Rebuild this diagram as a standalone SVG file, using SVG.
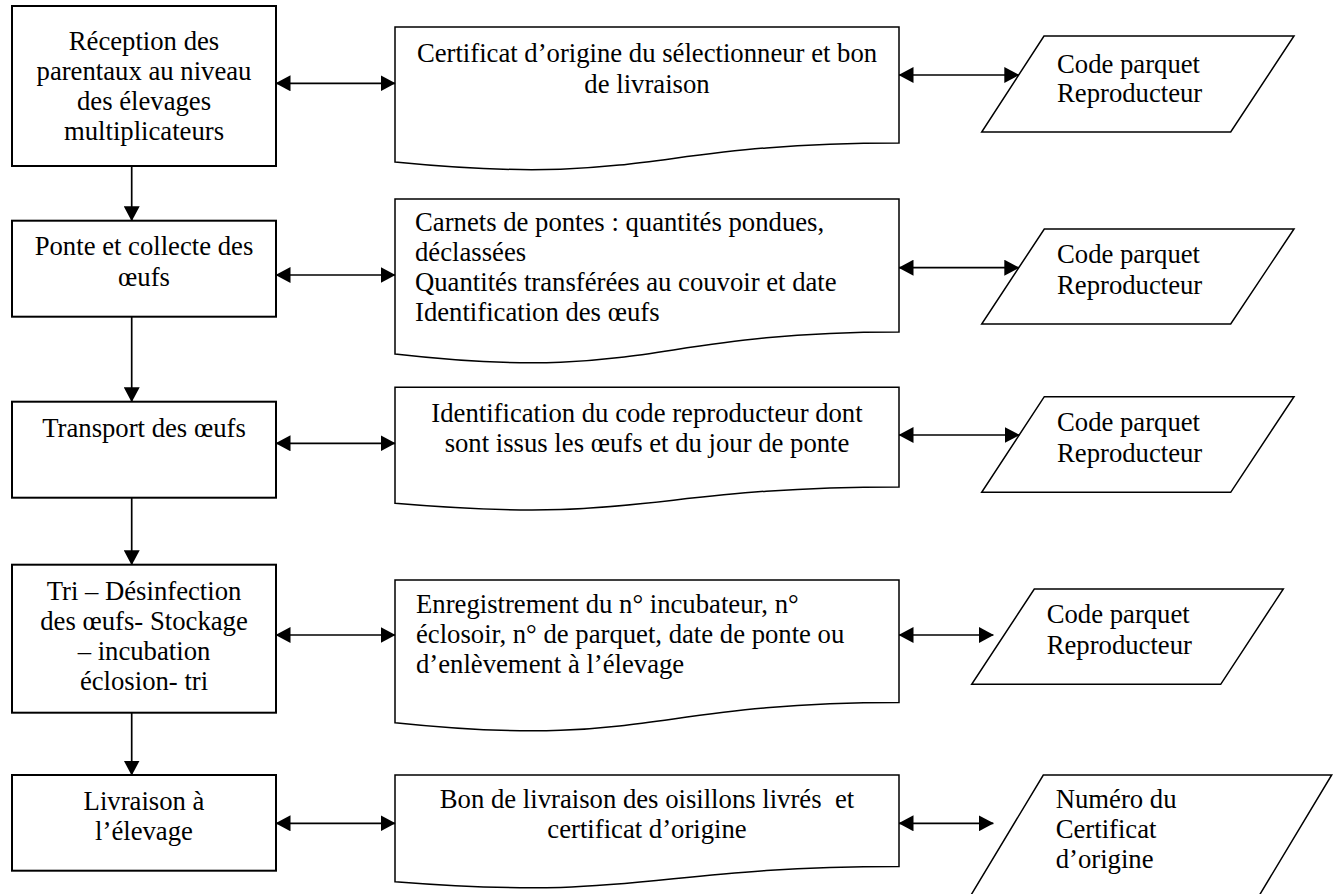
<svg xmlns="http://www.w3.org/2000/svg" width="1341" height="894" viewBox="0 0 1341 894">
<style>
.box{fill:#fff;stroke:#000;stroke-width:2}
.doc{fill:#fff;stroke:#000;stroke-width:1.5}
.par{fill:#fff;stroke:#000;stroke-width:1.5}
.t{font-family:"Liberation Serif","Times New Roman",serif;font-size:26.7px;fill:#000}
.c{text-anchor:middle}
.con line{stroke:#000;stroke-width:1.7}
.bi{marker-start:url(#ah);marker-end:url(#ah)}
.one{marker-end:url(#ah)}
</style>
<defs>
<marker id="ah" viewBox="0 0 15 16" refX="14.5" refY="8" markerWidth="15" markerHeight="16" markerUnits="userSpaceOnUse" orient="auto-start-reverse">
<path d="M0,0 L15,8 L0,16 z" fill="#000"/>
</marker>
</defs>
<rect width="1341" height="894" fill="#fff"/>

<g id="p1">
<polygon class="par" points="1044,36 1294,36 1230.7,132 981.7,132"/>
<text class="t" x="1057" y="72.7">Code parquet</text>
<text class="t" x="1057" y="101.7">Reproducteur</text>
</g>
<g id="p2">
<polygon class="par" points="1044.3,229 1294,229 1230.7,324 981.7,324"/>
<text class="t" x="1057" y="263.3">Code parquet</text>
<text class="t" x="1057" y="294.3">Reproducteur</text>
</g>
<g id="p3">
<polygon class="par" points="1044.3,396.7 1294,396.7 1230.7,492.3 981.7,492.3"/>
<text class="t" x="1057" y="431">Code parquet</text>
<text class="t" x="1057" y="462.3">Reproducteur</text>
</g>
<g id="p4">
<polygon class="par" points="1034.3,589 1283.3,589 1220.7,684.3 971.7,684.3"/>
<text class="t" x="1046.7" y="623.3">Code parquet</text>
<text class="t" x="1046.7" y="654.3">Reproducteur</text>
</g>
<g id="p5">
<polygon class="par" points="1043.3,775 1331.7,775 1244.5,920 956,920"/>
<text class="t" x="1055.7" y="808.3">Numéro du</text>
<text class="t" x="1055.7" y="838.3">Certificat</text>
<text class="t" x="1055.7" y="868.3">d’origine</text>
</g>

<g id="b1">
<rect class="box" x="12" y="6" width="264" height="160"/>
<text class="t c" x="144" y="49.5">Réception des</text>
<text class="t c" x="144" y="79.5">parentaux au niveau</text>
<text class="t c" x="144" y="109.5">des élevages</text>
<text class="t c" x="144" y="139.5">multiplicateurs</text>
</g>
<g id="b2">
<rect class="box" x="12" y="220.7" width="264" height="96"/>
<text class="t c" x="144" y="255">Ponte et collecte des</text>
<text class="t c" x="144" y="286">œufs</text>
</g>
<g id="b3">
<rect class="box" x="12" y="401.7" width="264" height="96"/>
<text class="t c" x="144" y="437">Transport des œufs</text>
</g>
<g id="b4">
<rect class="box" x="12" y="564.7" width="264" height="148"/>
<text class="t c" x="144" y="600">Tri – Désinfection</text>
<text class="t c" x="144" y="630">des œufs- Stockage</text>
<text class="t c" x="144" y="660">– incubation</text>
<text class="t c" x="144" y="690">éclosion- tri</text>
</g>
<g id="b5">
<rect class="box" x="12" y="775" width="264" height="95.7"/>
<text class="t c" x="144" y="810">Livraison à</text>
<text class="t c" x="144" y="840">l’élevage</text>
</g>

<g id="d1">
<path class="doc" d="M395,27 H899 V142.9 C647,142.9 647,187 395,162 Z"/>
<text class="t c" x="647" y="62">Certificat d’origine du sélectionneur et bon</text>
<text class="t c" x="647" y="93">de livraison</text>
</g>
<g id="d2">
<path class="doc" d="M395,199 H899 V332.1 C647,332.1 647,382.8 395,354 Z"/>
<text class="t" x="415" y="231">Carnets de pontes : quantités pondues,</text>
<text class="t" x="415" y="261">déclassées</text>
<text class="t" x="415" y="291">Quantités transférées au couvoir et date</text>
<text class="t" x="415" y="321">Identification des œufs</text>
</g>
<g id="d3">
<path class="doc" d="M395,387.3 H899 V486.9 C647,486.9 647,524.9 395,503.3 Z"/>
<text class="t c" x="647" y="421.7">Identification du code reproducteur dont</text>
<text class="t c" x="647" y="451.7">sont issus les œufs et du jour de ponte</text>
</g>
<g id="d4">
<path class="doc" d="M395,580 H899 V702.5 C647,702.5 647,749.2 395,722.7 Z"/>
<text class="t" x="416" y="613.3">Enregistrement du n° incubateur, n°</text>
<text class="t" x="416" y="643.3">éclosoir, n° de parquet, date de ponte ou</text>
<text class="t" x="416" y="673.3">d’enlèvement à l’élevage</text>
</g>
<g id="d5">
<path class="doc" d="M395,775 H899 V866.6 C647,866.6 647,901.5 395,881.7 Z"/>
<text class="t c" x="647" y="808.3" xml:space="preserve" style="white-space:pre">Bon de livraison des oisillons livrés  et</text>
<text class="t c" x="647" y="838.3">certificat d’origine</text>
</g>

<g id="connectors" class="con">
<line class="bi" x1="276" y1="83.3" x2="395" y2="83.3"/>
<line class="bi" x1="276" y1="275" x2="395" y2="275"/>
<line class="bi" x1="276" y1="443.3" x2="395" y2="443.3"/>
<line class="bi" x1="276" y1="635" x2="395" y2="635"/>
<line class="bi" x1="276" y1="823.3" x2="395" y2="823.3"/>
<line class="bi" x1="899" y1="75" x2="1018.8" y2="75"/>
<line class="bi" x1="899" y1="267.7" x2="1018.8" y2="267.7"/>
<line class="bi" x1="899" y1="435" x2="1019.2" y2="435"/>
<line class="bi" x1="899" y1="635" x2="993.3" y2="635"/>
<line class="bi" x1="899" y1="823.3" x2="993.3" y2="823.3"/>
<line class="one" x1="131.7" y1="166" x2="131.7" y2="220.7"/>
<line class="one" x1="131.7" y1="316.7" x2="131.7" y2="401.7"/>
<line class="one" x1="131.7" y1="497.7" x2="131.7" y2="564.7"/>
<line class="one" x1="131.7" y1="712.7" x2="131.7" y2="775"/>
</g>
</svg>
